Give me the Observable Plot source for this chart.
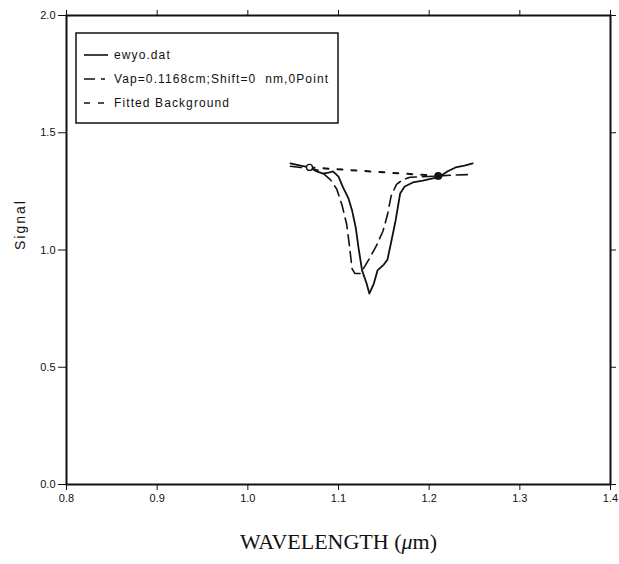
<!DOCTYPE html>
<html>
<head>
<meta charset="utf-8">
<script src="https://cdn.jsdelivr.net/npm/d3@7"></script>
<script src="https://cdn.jsdelivr.net/npm/@observablehq/plot@0.6"></script>
<style>
  html, body { margin: 0; padding: 0; background: #fff; }
  #chart svg { display: block; }
</style>
</head>
<body>
<div id="chart"></div>
<script>
// Measured spectrum (ewyo.dat)
const ewyoX = [1.047, 1.058, 1.068, 1.076, 1.083, 1.089, 1.094, 1.100, 1.105, 1.111, 1.115, 1.119, 1.122, 1.126, 1.131, 1.134,
               1.139, 1.143, 1.150, 1.154, 1.158, 1.163, 1.168, 1.173, 1.182, 1.193, 1.204, 1.212, 1.220, 1.229, 1.239, 1.248];
const ewyoY = [1.369, 1.360, 1.352, 1.335, 1.326, 1.330, 1.335, 1.313, 1.267, 1.220, 1.168, 1.096, 1.011, 0.913, 0.857, 0.814,
               0.857, 0.913, 0.938, 0.959, 1.032, 1.126, 1.241, 1.271, 1.288, 1.296, 1.305, 1.313, 1.335, 1.352, 1.360, 1.369];

// Model spectrum, Vap=0.1168cm
const vapX = [1.047, 1.058, 1.068, 1.078, 1.082, 1.091, 1.098, 1.104, 1.109, 1.112, 1.115, 1.118, 1.124, 1.129, 1.135,
              1.142, 1.149, 1.154, 1.158, 1.164, 1.171, 1.179, 1.190, 1.212, 1.229, 1.248];
const vapY = [1.357, 1.352, 1.348, 1.340, 1.330, 1.300, 1.260, 1.190, 1.110, 1.020, 0.920, 0.900, 0.900, 0.930, 0.970,
              1.020, 1.080, 1.150, 1.230, 1.280, 1.300, 1.310, 1.312, 1.316, 1.320, 1.322];

// Fitted background end points
const bgX = [1.068, 1.210];
const bgY = [1.352, 1.316];

const xTicks = [0.8, 0.9, 1.0, 1.1, 1.2, 1.3, 1.4];
const yTicks = [0.0, 0.5, 1.0, 1.5, 2.0];
const legendLabels = ["ewyo.dat", "Vap=0.1168cm;Shift=0  nm,0Point", "Fitted Background"];

const toRows = (xs, ys) => xs.map((x, i) => ({x, y: ys[i]}));
const ewyo = toRows(ewyoX, ewyoY);
const vap = toRows(vapX, vapY);
const bg = toRows(bgX, bgY);

const fmt = d3.format(".1f");
const sans = "'Liberation Sans', Arial, sans-serif";

const plot = Plot.plot({
  width: 619,
  height: 564,
  marginLeft: 66,
  marginRight: 9,
  marginTop: 15,
  marginBottom: 80,
  style: {fontFamily: sans, fontSize: "11px", color: "#111", background: "#fff"},
  x: {domain: [0.8, 1.4]},
  y: {domain: [0, 2]},
  marks: [
    Plot.frame({stroke: "#111", strokeWidth: 2}),
    Plot.axisX({anchor: "bottom", ticks: xTicks, tickFormat: fmt, tickSize: 6, tickPadding: 4, label: null, fontSize: 11}),
    Plot.axisX({anchor: "top", ticks: xTicks, tickFormat: () => "", tickSize: 6, label: null}),
    Plot.axisY({anchor: "left", ticks: yTicks, tickFormat: fmt, tickSize: 8, tickPadding: 3, label: null, fontSize: 11}),
    Plot.axisY({anchor: "right", ticks: yTicks, tickFormat: () => "", tickSize: 5, label: null}),
    Plot.line(bg, {x: "x", y: "y", stroke: "#111", strokeWidth: 2, strokeDasharray: "5,9"}),
    Plot.line(vap, {x: "x", y: "y", stroke: "#111", strokeWidth: 1.6, strokeDasharray: "11,6"}),
    Plot.line(ewyo, {x: "x", y: "y", stroke: "#111", strokeWidth: 1.8}),
    Plot.dot(bg.slice(0, 1), {x: "x", y: "y", r: 3, stroke: "#111", fill: "#fff", strokeWidth: 1.3}),
    Plot.dot(bg.slice(1), {x: "x", y: "y", r: 3.2, fill: "#111", stroke: "#111"}),
    Plot.text(["Signal"], {frameAnchor: "left", dx: -46, rotate: -90, fontSize: 14, fontFamily: sans, fill: "#111"}),
    Plot.text(["WAVELENGTH (μm)"], {frameAnchor: "bottom", dy: 64, fontSize: 22, fontFamily: "'Liberation Serif', 'Times New Roman', serif", fill: "#111"})
  ]
});

const svg = d3.select(plot);

// Wider tracking on the y-axis title
svg.selectAll("text").filter(function () { return this.textContent === "Signal"; })
  .attr("letter-spacing", "2px");

// Italic mu in the axis title
svg.selectAll("text").filter(function () { return this.textContent === "WAVELENGTH (μm)"; })
  .each(function () {
    const t = d3.select(this);
    t.text("");
    t.append("tspan").text("WAVELENGTH (");
    t.append("tspan").attr("font-style", "italic").text("μ");
    t.append("tspan").text("m)");
  });

// Legend box in the upper-left corner of the frame
const lg = svg.append("g").attr("transform", "translate(76,33)").attr("text-anchor", "start");
lg.append("rect").attr("width", 262).attr("height", 90)
  .attr("fill", "#fff").attr("stroke", "#111").attr("stroke-width", 1.5);
const dashes = [null, "11,6,4,6", "6,8"];
legendLabels.forEach((label, i) => {
  const y = 22 + i * 24;
  lg.append("line").attr("x1", 8).attr("x2", 32).attr("y1", y).attr("y2", y)
    .attr("stroke", "#111").attr("stroke-width", 1.6)
    .attr("stroke-dasharray", dashes[i]);
  lg.append("text").attr("x", 38).attr("y", y).attr("dy", "0.35em")
    .attr("text-anchor", "start")
    .attr("font-family", sans).attr("font-size", 12).attr("fill", "#111")
    .attr("letter-spacing", "1.1px")
    .text(label);
});

document.getElementById("chart").append(plot);
</script>
</body>
</html>
